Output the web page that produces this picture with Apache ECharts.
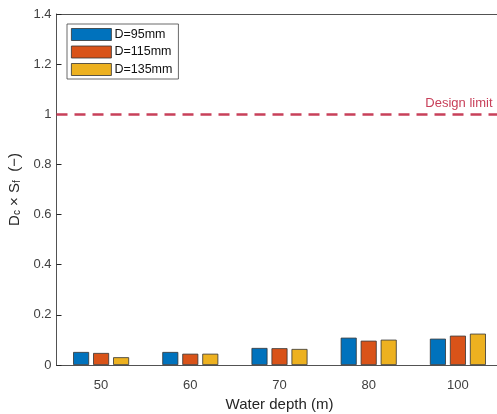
<!DOCTYPE html>
<html><head><meta charset="utf-8">
<script src="https://cdn.jsdelivr.net/npm/echarts@6/dist/echarts.min.js"></script>
<style>html,body{margin:0;padding:0;background:#fff;overflow:hidden}#c{width:497px;height:414px}</style>
</head><body><div id="c"></div>
<script>
const categories = ['50', '60', '70', '80', '100'];
const d95 = [0.052, 0.052, 0.068, 0.109, 0.105];
const d115 = [0.048, 0.045, 0.067, 0.097, 0.117];
const d135 = [0.031, 0.045, 0.064, 0.101, 0.125];
const seriesNames = ['D=95mm', 'D=115mm', 'D=135mm'];
const colors = ['#0072BD', '#D95319', '#EDB120'];
const designLimit = 1;

const chart = echarts.init(document.getElementById('c'));
const axisColor = '#262626';
const sans = 'Helvetica, Arial, sans-serif';
const mkBar = (name, data, color) => ({
  name, type: 'bar', data, barWidth: 16, barGap: '25%',
  itemStyle: { color, borderColor: '#333', borderWidth: 0.8 }
});
const s = [mkBar(seriesNames[0], d95, colors[0]), mkBar(seriesNames[1], d115, colors[1]), mkBar(seriesNames[2], d135, colors[2])];
s[0].markLine = {
  silent: true, symbol: 'none',
  lineStyle: { color: '#C8405A', type: [11, 7], width: 2.5 },
  label: { show: true, position: 'insideEndTop', formatter: 'Design limit', color: '#C8405A', fontSize: 13, fontFamily: sans, distance: [0, 4], padding: [0, 10, 0, 0] },
  data: [{ yAxis: designLimit }]
};
chart.setOption({
  animation: false,
  grid: { left: 56.5, top: 14, width: 446, bottom: 49, outerBoundsMode: 'none', containLabel: false },
  legend: {
    orient: 'vertical', left: 67, top: 24, itemWidth: 40, itemHeight: 12, itemGap: 4.5,
    padding: [4, 6, 3, 4], borderColor: '#444', borderWidth: 0.8, backgroundColor: '#fff',
    textStyle: { fontSize: 12.5, color: '#111', fontFamily: sans, padding: [0, 0, 0, -2] },
    data: seriesNames.map(n => ({ name: n, icon: 'rect', itemStyle: { borderColor: '#333', borderWidth: 0.8 } }))
  },
  xAxis: [{
    type: 'category', data: categories, position: 'bottom',
    name: 'Water depth (m)', nameLocation: 'middle', nameGap: 30,
    nameTextStyle: { fontSize: 15, color: axisColor, fontFamily: sans },
    axisLine: { lineStyle: { color: axisColor, width: 0.8 } },
    axisTick: { inside: true, alignWithLabel: true, length: 5, lineStyle: { color: axisColor } },
    axisLabel: { fontSize: 13, color: '#404040', margin: 14, fontFamily: sans }
  }, {
    type: 'category', data: categories, position: 'top',
    axisLine: { show: true, lineStyle: { color: axisColor, width: 0.8 } },
    axisTick: { inside: true, alignWithLabel: true, length: 5, lineStyle: { color: axisColor } },
    axisLabel: { show: false }
  }],
  yAxis: [{
    type: 'value', min: 0, max: 1.4, interval: 0.2, position: 'left',
    name: '{i|D}{s|c}{i| × S}{s|f}{i|  (−)}', nameLocation: 'middle', nameGap: 28, nameRotate: 90,
    nameTextStyle: {
      rich: {
        i: { fontSize: 15, color: axisColor, fontFamily: sans },
        s: { fontSize: 10, color: axisColor, fontFamily: sans, verticalAlign: 'bottom', padding: [6, 0, 0, 0] }
      }
    },
    axisLine: { show: true, lineStyle: { color: axisColor, width: 0.8 } },
    axisTick: { show: true, inside: true, length: 5, lineStyle: { color: axisColor } },
    splitLine: { show: false },
    axisLabel: { fontSize: 13, color: '#404040', margin: 5, fontFamily: sans, formatter: v => String(+v.toFixed(1)) }
  }],
  series: s
});
</script></body></html>
